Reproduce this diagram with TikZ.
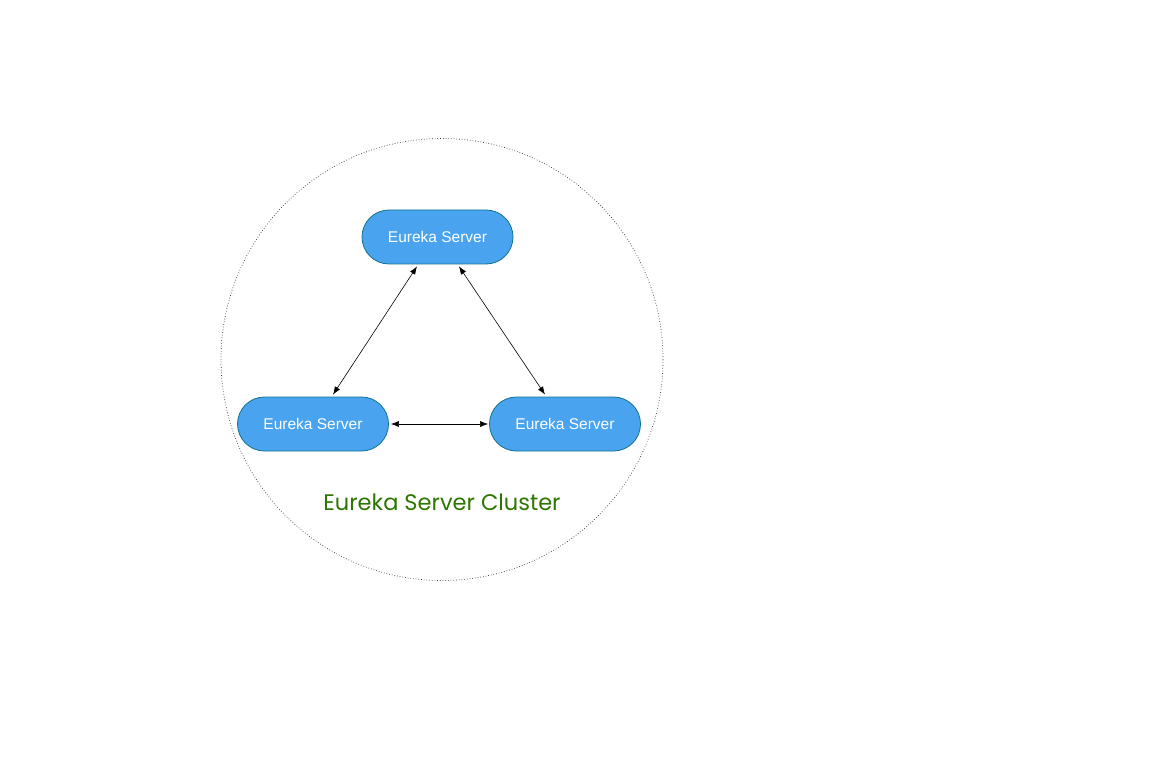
\documentclass[tikz,border=0pt]{standalone}
\usepackage{fontspec}
\setmainfont{Liberation Sans}
\newfontfamily\labelfont{Poppins}
\usetikzlibrary{arrows.meta,shapes.misc}
\definecolor{srvfill}{RGB}{73,163,239}
\definecolor{srvline}{RGB}{16,115,140}
\definecolor{clustergreen}{RGB}{45,118,0}
\tikzset{
  server/.style={draw=srvline, fill=srvfill, rounded rectangle, minimum width=151pt, minimum height=54pt, inner sep=0pt, text=white, font=\fontsize{15.5}{18}\selectfont, line width=0.8pt},
  link/.style={{Latex[length=8pt,width=6pt]}-{Latex[length=8pt,width=6pt]}, line width=0.6pt, black},
  cluster/.style={draw=black!80, dotted, line width=0.7pt, circle, minimum size=442pt, inner sep=0pt}
}
\begin{document}
\begin{tikzpicture}[x=1pt,y=-1pt]
\useasboundingbox (0,0) rectangle (1155,783);
\node[cluster] (circ) at (442,359.5) {};
\node[server] (top) at (437.5,237) {Eureka Server};
\node[server] (left) at (313,424) {Eureka Server};
\node[server] (right) at (565,424) {Eureka Server};
\node[text=clustergreen, font=\labelfont\fontsize{22.5}{26}\selectfont] (lbl) at (442,502) {Eureka Server Cluster};
\draw[link] ([xshift=-20.5pt,yshift=-2pt]top.south) -- ([xshift=20pt,yshift=2pt]left.north);
\draw[link] ([xshift=21.5pt,yshift=-2pt]top.south) -- ([xshift=-20pt,yshift=2pt]right.north);
\draw[link] ([xshift=2pt]left.east) -- ([xshift=-1pt]right.west);
\end{tikzpicture}
\end{document}
